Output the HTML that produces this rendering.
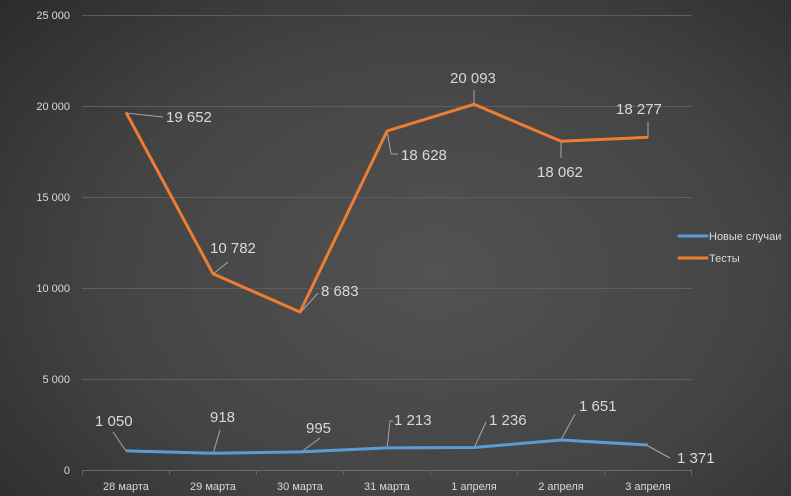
<!DOCTYPE html>
<html><head><meta charset="utf-8"><style>
html,body{margin:0;padding:0}
body{width:791px;height:496px;overflow:hidden;background:radial-gradient(ellipse 75% 85% at 55% 55%,#525252 0%,#444 55%,#2a2a2a 100%);font-family:"Liberation Sans",sans-serif}
</style></head><body>
<svg width="791" height="496" xmlns="http://www.w3.org/2000/svg" style="position:absolute;left:0;top:0">
<g stroke="#5e5e5e" stroke-width="1">
<line x1="82" y1="15.5" x2="692" y2="15.5"/>
<line x1="82" y1="106.5" x2="692" y2="106.5"/>
<line x1="82" y1="197.5" x2="692" y2="197.5"/>
<line x1="82" y1="288.5" x2="692" y2="288.5"/>
<line x1="82" y1="379.5" x2="692" y2="379.5"/>
</g>
<g stroke="#6a6a6a" stroke-width="1">
<line x1="82" y1="470.5" x2="692" y2="470.5"/>
<line x1="82.5" y1="470" x2="82.5" y2="475"/><line x1="169.5" y1="470" x2="169.5" y2="475"/><line x1="256.5" y1="470" x2="256.5" y2="475"/><line x1="343.5" y1="470" x2="343.5" y2="475"/><line x1="430.5" y1="470" x2="430.5" y2="475"/><line x1="517.5" y1="470" x2="517.5" y2="475"/><line x1="604.5" y1="470" x2="604.5" y2="475"/><line x1="691.5" y1="470" x2="691.5" y2="475"/>
</g>
<g fill="#d9d9d9" font-size="11" text-anchor="end">
<text x="70" y="19">25 000</text><text x="70" y="110">20 000</text><text x="70" y="201">15 000</text><text x="70" y="292">10 000</text><text x="70" y="383">5 000</text><text x="70" y="474">0</text>
</g>
<g fill="#d9d9d9" font-size="11" text-anchor="middle">
<text x="126" y="490">28 марта</text><text x="213" y="490">29 марта</text><text x="300" y="490">30 марта</text><text x="387" y="490">31 марта</text><text x="474" y="490">1 апреля</text><text x="561" y="490">2 апреля</text><text x="648" y="490">3 апреля</text>
</g>
<g stroke="#a6a6a6" stroke-width="1" fill="none">
<path d="M126 113 L163 117"/><path d="M213 274 L228 262"/><path d="M300 313 L318 293"/><path d="M387 131 L391 154 L398 154"/><path d="M474 105 L474 90"/><path d="M561 142 L561 158"/><path d="M648 138 L648 122"/>
<path d="M126 451 L113 432"/><path d="M213 454 L220 430"/><path d="M300 453 L320 438"/><path d="M387 449 L390 421 L393 421"/><path d="M474 448 L486 422"/><path d="M561 440 L575 414"/><path d="M648 446 L670 458"/>
</g>
<polyline fill="none" stroke="#ed7d31" stroke-width="3" stroke-linejoin="round" points="126,112.3 213,273.8 300,312.0 387,131.0 474,104.3 561,141.3 648,137.3"/>
<polyline fill="none" stroke="#5b9bd5" stroke-width="3" stroke-linejoin="round" points="126,450.9 213,453.3 300,451.9 387,447.9 474,447.5 561,440.0 648,445.0"/>
<g fill="#d9d9d9" font-size="15">
<text x="166" y="122">19 652</text><text x="210" y="253">10 782</text><text x="321" y="296">8 683</text><text x="401" y="160">18 628</text><text x="450" y="83">20 093</text><text x="537" y="177">18 062</text><text x="616" y="114">18 277</text>
<text x="95" y="426">1 050</text><text x="210" y="422">918</text><text x="306" y="433">995</text><text x="394" y="425">1 213</text><text x="489" y="425">1 236</text><text x="579" y="411">1 651</text><text x="677" y="463">1 371</text>
</g>
<line x1="679" y1="236" x2="707" y2="236" stroke="#5b9bd5" stroke-width="3" stroke-linecap="round"/>
<line x1="679" y1="258" x2="707" y2="258" stroke="#ed7d31" stroke-width="3" stroke-linecap="round"/>
<g fill="#d9d9d9" font-size="11"><text x="709" y="240">Новые случаи</text><text x="709" y="262">Тесты</text></g>
</svg>
</body></html>
